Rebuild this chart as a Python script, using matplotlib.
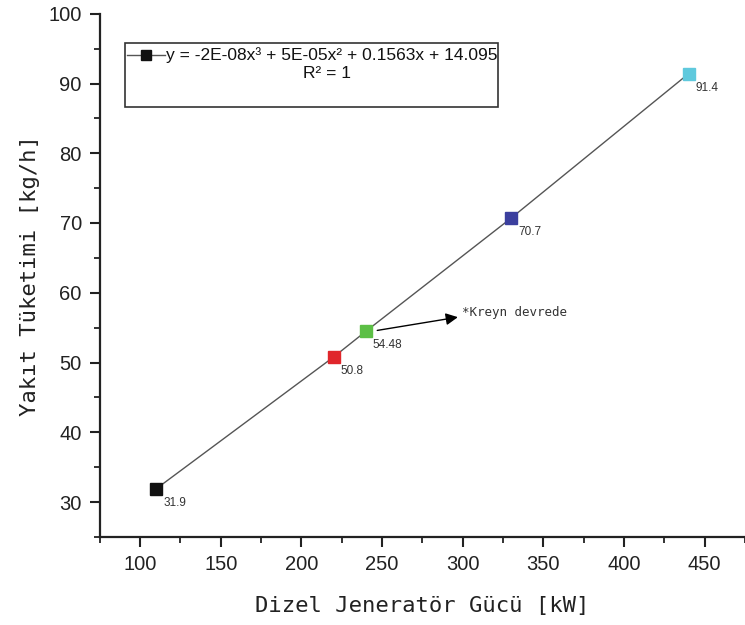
import matplotlib
matplotlib.use("Agg")
import matplotlib.pyplot as plt
from matplotlib.lines import Line2D
from matplotlib.patches import Rectangle
from matplotlib.ticker import MultipleLocator

power_kw = [110, 220, 240, 330, 440]
fuel_kgh = [31.9, 50.8, 54.48, 70.7, 91.4]
point_labels = ["31.9", "50.8", "54.48", "70.7", "91.4"]
point_colors = ["#111111", "#e0262b", "#5cbf45", "#3b3f9e", "#5fc9dd"]
equation = "y = -2E-08x\u00b3 + 5E-05x\u00b2 + 0.1563x + 14.095"
r2_text = "R\u00b2 = 1"
note_text = "*Kreyn devrede"
note_from = (247, 54.6)
note_to = (297, 56.5)

W, H = 745, 625
fig = plt.figure(figsize=(7.45, 6.25), dpi=100)
ax = fig.add_axes([0.134, 0.141, 0.866, 0.837])

ax.plot(power_kw, fuel_kgh, color="#555555", lw=1.0, zorder=2)
for x, y, c, lab in zip(power_kw, fuel_kgh, point_colors, point_labels):
    ax.plot([x], [y], marker="s", ms=8.5, color=c, mec=c, zorder=3, ls="none")
    ax.annotate(lab, (x, y), xytext=(5, -10), textcoords="offset points",
                fontsize=8.5, family="Liberation Sans", color="#333333",
                ha="left", va="center")

ax.annotate("", xy=note_to, xytext=note_from,
            arrowprops=dict(arrowstyle="-|>", color="black", lw=1.0,
                            mutation_scale=18, shrinkA=0, shrinkB=0))
ax.text(note_to[0] + 2.5, note_to[1] + 0.6, note_text, family="DejaVu Sans Mono",
        fontsize=9, color="#333333", ha="left", va="center")

ax.set_xlim(75, 475)
ax.set_ylim(25, 100)
ax.xaxis.set_minor_locator(MultipleLocator(25))
ax.yaxis.set_minor_locator(MultipleLocator(5))
ax.set_xticks([100, 150, 200, 250, 300, 350, 400, 450])
ax.set_yticks([30, 40, 50, 60, 70, 80, 90, 100])
ax.spines["top"].set_visible(False)
ax.spines["right"].set_visible(False)
for s in ("left", "bottom"):
    ax.spines[s].set_linewidth(1.6)
    ax.spines[s].set_color("#222222")
ax.tick_params(which="major", direction="out", length=7, width=1.5, color="#222222",
               labelsize=14.5, pad=6)
ax.tick_params(which="minor", direction="out", length=4, width=1.3, color="#222222")
for t in ax.get_xticklabels() + ax.get_yticklabels():
    t.set_family("Liberation Sans")
    t.set_color("#222222")

ax.set_xlabel("Dizel Jeneratör Gücü [kW]", family="DejaVu Sans Mono", fontsize=16,
              color="#222222", labelpad=16)
ax.set_ylabel("Yakıt Tüketimi [kg/h]", family="DejaVu Sans Mono", fontsize=16,
              color="#222222", labelpad=6)

# legend box drawn in figure pixel coordinates (fraction of figure)
def fx(px):
    return px / W

def fy(py):
    return 1 - py / H

box = Rectangle((fx(125), fy(107)), fx(498) - fx(125), fy(43) - fy(107),
                transform=fig.transFigure, facecolor="white", edgecolor="#333333",
                lw=1.2, zorder=5)
fig.add_artist(box)
fig.add_artist(Line2D([fx(127), fx(165)], [fy(55), fy(55)], transform=fig.transFigure,
                      color="#555555", lw=1.0, zorder=6))
fig.add_artist(Line2D([fx(146)], [fy(55)], transform=fig.transFigure, marker="s",
                      ms=7, color="#111111", zorder=7))
fig.text(fx(332), fy(55), equation, family="Liberation Sans", fontsize=12.5,
         ha="center", va="center", color="#111111", zorder=7)
fig.text(fx(327), fy(73), r2_text, family="Liberation Sans", fontsize=12.5,
         ha="center", va="center", color="#111111", zorder=7)

fig.savefig("out.png", dpi=100)
